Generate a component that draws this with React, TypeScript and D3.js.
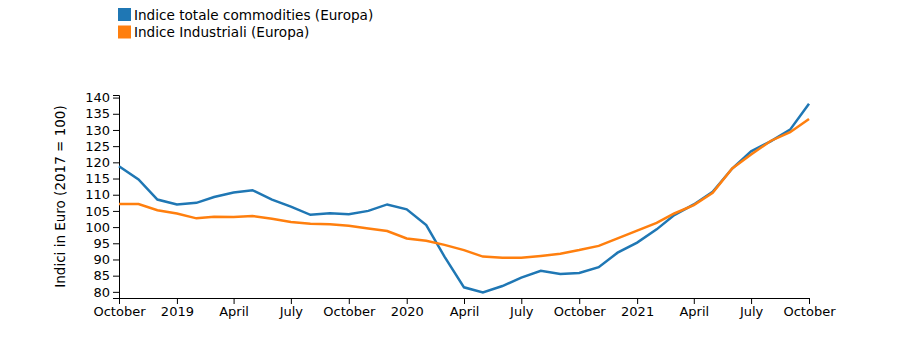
import React, { useEffect, useRef } from 'react'
import * as d3 from 'd3'

// monthly, October 2018 .. October 2021
const months = d3.timeMonths(new Date(2018, 9, 1), new Date(2021, 9, 2))

const totaleCommodities = [
  118.8, 114.7, 108.5, 107.0, 107.5, 109.3, 110.7, 111.4, 108.5, 106.3, 103.8, 104.3,
  104.0, 105.0, 107.0, 105.5, 100.6, 90.9, 81.4, 79.8, 81.8, 84.4, 86.5, 85.5,
  85.8, 87.6, 92.1, 95.2, 99.3, 103.7, 107.0, 110.9, 118.1, 123.4, 126.5, 130.1, 138.1,
]

const industriali = [
  107.1, 107.1, 105.2, 104.2, 102.7, 103.2, 103.1, 103.4, 102.6, 101.6, 101.0, 100.9,
  100.4, 99.6, 98.8, 96.5, 95.8, 94.5, 92.9, 90.9, 90.5, 90.5, 91.1, 91.8,
  92.9, 94.2, 96.5, 98.9, 101.3, 104.2, 106.8, 110.6, 118.1, 122.4, 126.6, 129.3, 133.4,
]

const seriesNames = ['Indice totale commodities (Europa)', 'Indice Industriali (Europa)']
const colors = ['#1f77b4', '#ff7f0e']

const yTicks = [80, 85, 90, 95, 100, 105, 110, 115, 120, 125, 130, 135, 140]

const itMonths = ['January', 'February', 'March', 'April', 'May', 'June', 'July', 'August', 'September', 'October', 'November', 'December']

const width = 913
const height = 351
const margin = { top: 95, right: 104, bottom: 53, left: 119 }

const App = () => {
  const svgRef = useRef(null)

  useEffect(() => {
    const svg = d3.select(svgRef.current)
    svg.selectAll('*').remove()

    const x = d3.scaleTime()
      .domain([months[0], months[months.length - 1]])
      .range([margin.left, width - margin.right])

    const y = d3.scaleLinear()
      .domain([78.1, 140.8])
      .range([height - margin.bottom, margin.top])

    const fmt = (d) => d.getMonth() === 0 ? String(d.getFullYear()) : itMonths[d.getMonth()]

    const xAxis = svg.append('g')
      .attr('transform', `translate(0,${height - margin.bottom})`)
      .call(d3.axisBottom(x).ticks(d3.timeMonth.every(3)).tickFormat(fmt))
    xAxis.selectAll('text').attr('font-size', 13).attr('font-family', 'DejaVu Sans')

    const yAxis = svg.append('g')
      .attr('transform', `translate(${margin.left},0)`)
      .call(d3.axisLeft(y).tickValues(yTicks))
    yAxis.selectAll('text').attr('font-size', 13).attr('font-family', 'DejaVu Sans')

    svg.append('text')
      .attr('transform', `translate(65,${(margin.top + height - margin.bottom) / 2}) rotate(-90)`)
      .attr('text-anchor', 'middle')
      .attr('font-family', 'DejaVu Sans')
      .attr('font-size', 13.5)
      .text('Indici in Euro (2017 = 100)')

    const line = d3.line()
      .x((d, i) => x(months[i]))
      .y(d => y(d))

    ;[totaleCommodities, industriali].forEach((s, i) => {
      svg.append('path')
        .datum(s)
        .attr('d', line)
        .attr('fill', 'none')
        .attr('stroke', colors[i])
        .attr('stroke-width', 2.5)
    })

    const legend = svg.append('g').attr('transform', 'translate(118,8)')
    seriesNames.forEach((name, i) => {
      const g = legend.append('g').attr('transform', `translate(0,${i * 17.5})`)
      g.append('rect').attr('width', 13).attr('height', 13).attr('fill', colors[i])
      g.append('text')
        .attr('x', 16)
        .attr('y', 11.5)
        .attr('font-family', 'DejaVu Sans')
        .attr('font-size', 13.6)
        .text(name)
    })
  }, [])

  return (
    <div style={{ position: 'absolute', left: 0, top: 0 }}>
      <svg ref={svgRef} width={width} height={height} />
    </div>
  )
}

export default App
